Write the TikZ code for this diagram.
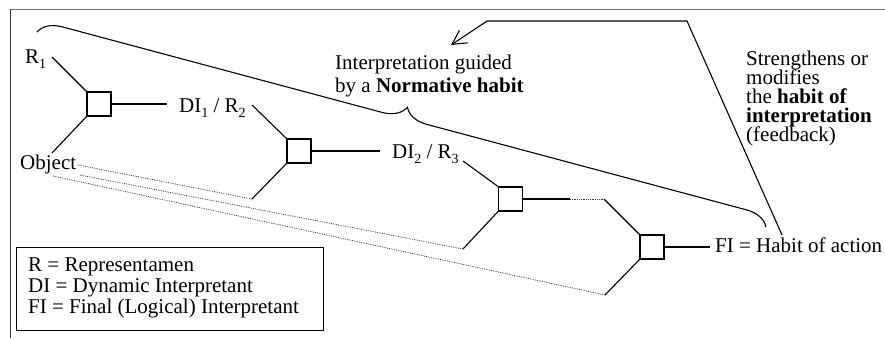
\documentclass[tikz,border=0pt]{standalone}
\usepackage{fontspec}
\setmainfont{Liberation Serif}
\usetikzlibrary{decorations.pathreplacing,arrows.meta}
% lowered index digit set in the text font
\newcommand\lowidx[1]{\raisebox{-5pt}{\fontsize{14}{14}\selectfont #1}}
% allow lines closer than their natural height
\newcommand\tightlines{\lineskiplimit=-20pt\relax\lineskip=0pt\relax}
\begin{document}
\begin{tikzpicture}[x=1pt,y=-1pt,
  sq/.style={draw, line width=1.2pt, minimum size=24pt, inner sep=0pt},
  lab/.style={inner sep=0pt, font=\fontsize{21}{21}\selectfont},
  link/.style={line width=1.1pt},
  trace/.style={densely dotted, line width=0.8pt, black!75},
  frameline/.style={line width=1.8pt}]
\useasboundingbox (0,0) rectangle (885,338);

% outer frame (top and left edges only)
\draw[frameline, black!55] (10,9.5) -- (885,9.5);
\draw[frameline, black!80] (10.5,9) -- (10.5,338);

% semiosis nodes
\node[sq] (b1) at (99,104) {};
\node[sq] (b2) at (299,151) {};
\node[sq] (b3) at (510.5,199) {};
\node[sq] (b4) at (652,247) {};

% labels
\node[lab, anchor=base west] (r1) at (25,63) {R\lowidx{1}};
\node[lab, anchor=base west] (obj) at (20,169) {Object};
\node[lab, anchor=base west] (d1) at (179,112) {DI\lowidx{1} / R\lowidx{2}};
\node[lab, anchor=base west] (d2) at (392,158) {DI\lowidx{2} / R\lowidx{3}};
\node[lab, anchor=base west] (fi) at (715,252) {FI = Habit of action};

% connector ends next to the labels
\coordinate (r1t) at (52,57);
\coordinate (ot) at (52,153);
\coordinate (d1w) at (167,104);
\coordinate (d1e) at (252,105);
\coordinate (d2w) at (380,151);
\coordinate (d2e) at (463,161);
\coordinate (j3) at (570,199);
\coordinate (j4) at (604,199);
\coordinate (fiw) at (710,247);
\coordinate (e2) at (252,199);
\coordinate (e3) at (463,249);
\coordinate (e4) at (605,295);
\coordinate (o1) at (78,165);
\coordinate (o2) at (80,175);
\coordinate (o3) at (53,176);

% triadic links
\draw[link] (r1t) -- (b1.north west);
\draw[link] (ot) -- (b1.south west);
\draw[link] (b1.east) -- (d1w);
\draw[link] (d1e) -- (b2.north west);
\draw[link] (b2.east) -- (d2w);
\draw[link] (b2.south west) -- (e2);
\draw[link] (d2e) -- (b3.north west);
\draw[link] (b3.south west) -- (e3);
\draw[link] (b3.east) -- (j3);
\draw[trace] (j3) -- (j4);
\draw[link] (j4) -- (b4.north west);
\draw[link] (b4.south west) -- (e4);
\draw[link] (b4.east) -- (fiw);

% object carried along each step
\draw[trace] (o1) -- (e2);
\draw[trace] (o2) -- (e3);
\draw[trace] (o3) -- (e4);

% brace over the whole chain
\coordinate (bs) at (37,32);
\coordinate (be) at (766,227);
\draw[link, decorate, decoration={brace, amplitude=23pt}] (bs) -- (be);

% feedback arrow
\coordinate (fb0) at (782,235);
\coordinate (fb1) at (687,21);
\coordinate (fb2) at (487,21);
\coordinate (fb3) at (451,45);
\draw[link, -{Straight Barb[length=14pt,width=15pt]}] (fb0) -- (fb1) -- (fb2) -- (fb3);

% explanatory texts
\node[anchor=north west, inner sep=0pt, align=left, font=\fontsize{21}{23.5}\selectfont] (guide) at (335,54.7)
  {Interpretation guided\\by a \textbf{Normative habit}};
\node[anchor=north west, inner sep=0pt, align=left, font=\fontsize{21}{19}\selectfont\tightlines] (feed) at (746,51.2)
  {Strengthens or\\modifies\\the \textbf{habit of}\\\textbf{interpretation}\\(feedback)};

% legend
\node[draw, line width=1.1pt, anchor=north west, minimum width=307pt, minimum height=83pt, inner sep=0pt] (legend) at (16,247) {};
\node[anchor=north west, inner sep=0pt, align=left, font=\fontsize{21}{21}\selectfont] (legtext) at (28,257.1)
  {R = Representamen\\DI = Dynamic Interpretant\\FI = Final (Logical) Interpretant};
\end{tikzpicture}
\end{document}
